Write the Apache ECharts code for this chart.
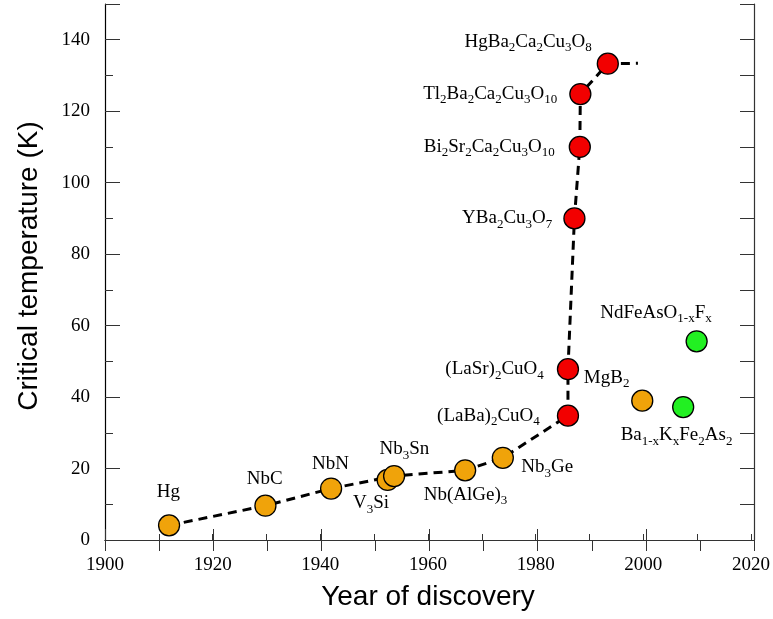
<!DOCTYPE html>
<html>
<head>
<meta charset="utf-8">
<script src="https://cdn.jsdelivr.net/npm/echarts@6/dist/echarts.min.js"></script>
<style>
  html, body { margin: 0; padding: 0; background: #fff; }
  #chart { width: 773px; height: 619px; }
</style>
</head>
<body>
<div id="chart"></div>
<script>
// materials, year of discovery, Tc (K); {s|..} marks a subscript
var names = [
  'Hg', 'NbC', 'NbN', 'V{s|3}Si', 'Nb{s|3}Sn', 'Nb(AlGe){s|3}', 'Nb{s|3}Ge',
  '(LaBa){s|2}CuO{s|4}', '(LaSr){s|2}CuO{s|4}', 'YBa{s|2}Cu{s|3}O{s|7}',
  'Bi{s|2}Sr{s|2}Ca{s|2}Cu{s|3}O{s|10}', 'Tl{s|2}Ba{s|2}Ca{s|2}Cu{s|3}O{s|10}',
  'HgBa{s|2}Ca{s|2}Cu{s|3}O{s|8}', 'MgB{s|2}',
  'Ba{s|1-x}K{s|x}Fe{s|2}As{s|2}', 'NdFeAsO{s|1-x}F{s|x}'
]
var years = [1911.9, 1929.8, 1942.0, 1952.5, 1953.7, 1966.9, 1973.9,
  1986.0, 1986.0, 1987.2, 1988.2, 1988.3, 1993.4, 1999.8, 2007.4, 2009.9]
var tc = [4.1, 9.6, 14.4, 16.8, 17.9, 19.5, 23.0,
  34.8, 47.8, 90.0, 110.0, 124.8, 133.3, 39.0, 37.2, 55.6]
var family = ['conv', 'conv', 'conv', 'conv', 'conv', 'conv', 'conv',
  'cuprate', 'cuprate', 'cuprate', 'cuprate', 'cuprate', 'cuprate', 'conv',
  'iron', 'iron']

// dashed guide line
var trendYears = [1911.9, 1929.8, 1942.0, 1953.7, 1966.9, 1973.9, 1986.0, 1986.0,
  1987.2, 1988.2, 1988.3, 1993.4, 1999.0]
var trendTc = [4.1, 9.6, 14.4, 17.9, 19.5, 23.0, 34.8, 47.8, 90.0, 110.0, 124.8, 133.3, 133.4]

var xTicks = [1900, 1920, 1940, 1960, 1980, 2000, 2020]
var yTicks = [0, 20, 40, 60, 80, 100, 120, 140]

var colors = { conv: '#f0a30a', cuprate: '#f20000', iron: '#22f022' }

// label placement per point: ['left', distance] or ['at', [dx, dy]] from the centre
var labelPlace = [
  ['at', [0, -33]], ['at', [0, -26]], ['at', [0, -24]],
  ['at', [-16, 24]], ['at', [11, -26]], ['at', [1, 25]],
  ['at', [45, 10]],
  ['left', 17], ['left', 13], ['left', 11], ['left', 14], ['left', 12],
  ['at', [-79, -21]], ['at', [-35, -22]],
  ['at', [-6, 29]], ['at', [-40, -28]]
]

var symSize = 21
var serif = '"Liberation Serif", "Times New Roman", serif'
var sans = '"Liberation Sans", Arial, sans-serif'
var axisColor = '#333'

var pts = []
for (let i = 0; i < names.length; i++) {
  let place = labelPlace[i]
  let label = { show: true, formatter: names[i] }
  if (place[0] === 'left') {
    label.position = 'left'
    label.distance = place[1]
  } else {
    label.position = [symSize / 2 + place[1][0], symSize / 2 + place[1][1]]
    label.align = 'center'
    label.verticalAlign = 'middle'
  }
  pts.push({
    value: [years[i], tc[i]],
    itemStyle: { color: colors[family[i]] },
    label: label
  })
}
var trend = []
for (let i = 0; i < trendYears.length; i++) {
  trend.push([trendYears[i], trendTc[i]])
}

var gridBox = { left: 105, right: 19, top: 4, bottom: 79 }

var chart = echarts.init(document.getElementById('chart'), null, { renderer: 'canvas' })
chart.setOption({
  backgroundColor: '#fff',
  animation: false,
  grid: [
    Object.assign({}, gridBox),
    Object.assign({}, gridBox)
  ],
  xAxis: [{
    gridIndex: 0,
    type: 'value',
    position: 'bottom',
    min: 1900,
    max: 2020,
    interval: 10,
    name: 'Year of discovery',
    nameLocation: 'middle',
    nameGap: 43,
    nameTextStyle: { fontFamily: sans, fontSize: 28, color: '#000' },
    axisLine: { lineStyle: { color: axisColor, width: 1.2 } },
    axisTick: { inside: true, length: 6, lineStyle: { color: axisColor } },
    axisLabel: {
      margin: 16,
      fontFamily: serif,
      fontSize: 19,
      color: '#000',
      formatter: function (v) { return xTicks.indexOf(v) >= 0 ? String(v) : '' }
    },
    splitLine: { show: false }
  }, {
    gridIndex: 1,
    type: 'value',
    position: 'bottom',
    min: 1900,
    max: 2020,
    interval: 20,
    axisLine: { show: false },
    axisTick: { inside: true, length: 11, lineStyle: { color: axisColor } },
    axisLabel: { show: false },
    splitLine: { show: false }
  }, {
    gridIndex: 1,
    type: 'value',
    position: 'top',
    min: 1900,
    max: 2020,
    interval: 10,
    axisLine: { lineStyle: { color: axisColor, width: 1.2 } },
    axisTick: { inside: true, length: 11, lineStyle: { color: axisColor } },
    axisLabel: { show: false },
    splitLine: { show: false }
  }],
  yAxis: [{
    gridIndex: 0,
    type: 'value',
    position: 'left',
    min: 0,
    max: 150,
    interval: 10,
    name: 'Critical temperature (K)',
    nameLocation: 'middle',
    nameGap: 62,
    nameTextStyle: { fontFamily: sans, fontSize: 28, color: '#000', padding: [0, 0, 0, 12] },
    axisLine: { lineStyle: { color: '#000', width: 1.2 } },
    axisTick: { inside: true, length: 8, lineStyle: { color: axisColor } },
    axisLabel: {
      margin: 15,
      fontFamily: serif,
      fontSize: 19,
      color: '#000',
      formatter: function (v) { return yTicks.indexOf(v) >= 0 ? String(v) : '' }
    },
    splitLine: { show: false }
  }, {
    gridIndex: 1,
    type: 'value',
    position: 'left',
    min: 0,
    max: 150,
    interval: 20,
    axisLine: { show: false },
    axisTick: { inside: true, length: 15, lineStyle: { color: axisColor } },
    axisLabel: { show: false },
    splitLine: { show: false }
  }, {
    gridIndex: 1,
    type: 'value',
    position: 'right',
    min: 0,
    max: 150,
    interval: 10,
    axisLine: { lineStyle: { color: axisColor, width: 1.2 } },
    axisTick: { inside: true, length: 14, lineStyle: { color: axisColor } },
    axisLabel: { show: false },
    splitLine: { show: false }
  }],
  series: [{
    name: 'trend',
    type: 'line',
    xAxisIndex: 0,
    yAxisIndex: 0,
    data: trend,
    symbol: 'none',
    z: 1,
    lineStyle: { color: '#000', width: 3, type: [9, 6] }
  }, {
    name: 'materials',
    type: 'scatter',
    xAxisIndex: 0,
    yAxisIndex: 0,
    data: pts,
    symbol: 'circle',
    symbolSize: symSize,
    z: 2,
    itemStyle: { borderColor: '#000', borderWidth: 1.3, opacity: 1 },
    label: {
      color: '#000',
      fontFamily: serif,
      fontSize: 19,
      rich: {
        s: { fontFamily: serif, fontSize: 13, color: '#000', padding: [12, 0, 0, 0] }
      }
    }
  }]
})
</script>
</body>
</html>
